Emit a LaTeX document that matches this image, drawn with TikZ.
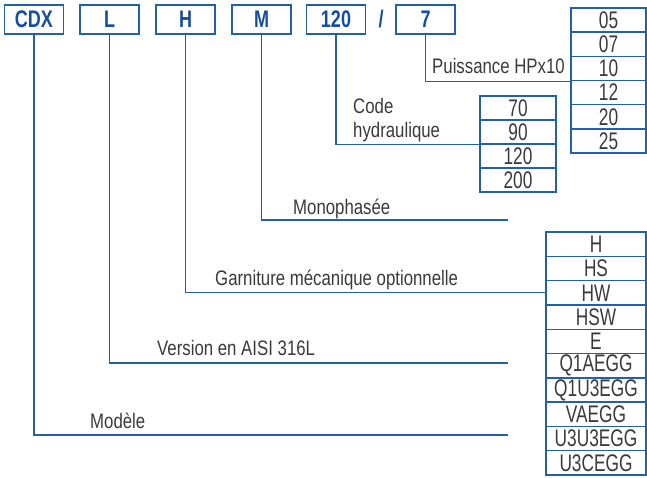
\documentclass[tikz,border=0pt]{standalone}
\usepackage{fontspec}
\setmainfont{Liberation Sans}
\newfontfamily\lblfont[FakeStretch=0.8]{Liberation Sans}
\newfontfamily\tblfont[FakeStretch=0.72]{Liberation Sans}
\newfontfamily\topfont[FakeStretch=0.75]{Liberation Sans}
\definecolor{lineblue}{RGB}{34,96,170}
\definecolor{textblue}{RGB}{22,78,155}
\definecolor{labelgray}{RGB}{58,58,58}
\tikzset{
  topbox/.style={draw=lineblue, line width=1.6pt, minimum width=59pt, minimum height=29pt,
    inner sep=0pt, text=textblue, font=\topfont\bfseries\fontsize{24}{24}\selectfont},
  cell/.style={draw=lineblue, line width=1.4pt, inner sep=0pt, text=labelgray,
    font=\tblfont\fontsize{24}{24}\selectfont},
  lbl/.style={anchor=base west, inner sep=0pt, text=labelgray,
    font=\lblfont\fontsize{21}{21}\selectfont},
  conn/.style={draw=lineblue, line width=1.3pt}
}
\begin{document}
\begin{tikzpicture}[x=1pt,y=-1pt]
\useasboundingbox (0,0) rectangle (647,477);
% top code boxes
\node[topbox] (bCDX) at (34,19.5) {CDX};
\node[topbox] (bL) at (109.5,19.5) {L};
\node[topbox] (bH) at (185.5,19.5) {H};
\node[topbox] (bM) at (261.5,19.5) {M};
\node[topbox] (b120) at (336,19.5) {120};
\node[text=textblue, font=\topfont\bfseries\fontsize{24}{24}\selectfont, inner sep=0pt] (slash) at (381,19.5) {/};
\node[topbox] (b7) at (425.5,19.5) {7};
% power table
\foreach \t [count=\i from 0] in {05,07,10,12,20,25}{
  \node[cell, minimum width=75pt, minimum height=24.17pt] (p\t) at (608.5,{8+12.08+24.17*\i}) {\raisebox{-1.5pt}{\t}};
}
% hydraulic table
\foreach \t [count=\i from 0] in {70,90,120,200}{
  \node[cell, minimum width=76pt, minimum height=24pt] (h\t) at (518,{96+12+24*\i}) {\raisebox{-1.5pt}{\t}};
}
% option table
\foreach \t [count=\i from 0] in {H,HS,HW,HSW,E,Q1AEGG,Q1U3EGG,VAEGG,U3U3EGG,U3CEGG}{
  \node[cell, minimum width=100pt, minimum height=24.3pt] (o\t) at (596,{232+12.15+24.3*\i}) {\raisebox{-1.5pt}{\t}};
}
% free ends
\coordinate (eM) at (508,220);
\coordinate (eL) at (508,363);
\coordinate (eCDX) at (508,435);
% connectors
\draw[conn] (b7.south) |- (p10.south west);
\draw[conn] (b120.south) |- (h90.south west);
\draw[conn] (bM.south) |- (eM);
\draw[conn] (bH.south) |- (oHW.west);
\draw[conn] (bL.south) |- (eL);
\draw[conn] (bCDX.south) |- (eCDX);
% labels
\node[lbl] (lP) at (432,73) {Puissance HPx10};
\node[lbl] (lC1) at (353,113) {Code};
\node[lbl] (lC2) at (353,137) {hydraulique};
\node[lbl] (lMo) at (293,214) {Monophasée};
\node[lbl] (lG) at (215,285) {Garniture mécanique optionnelle};
\node[lbl] (lV) at (157,355) {Version en AISI 316L};
\node[lbl] (lMd) at (90,428) {Modèle};
\end{tikzpicture}
\end{document}
